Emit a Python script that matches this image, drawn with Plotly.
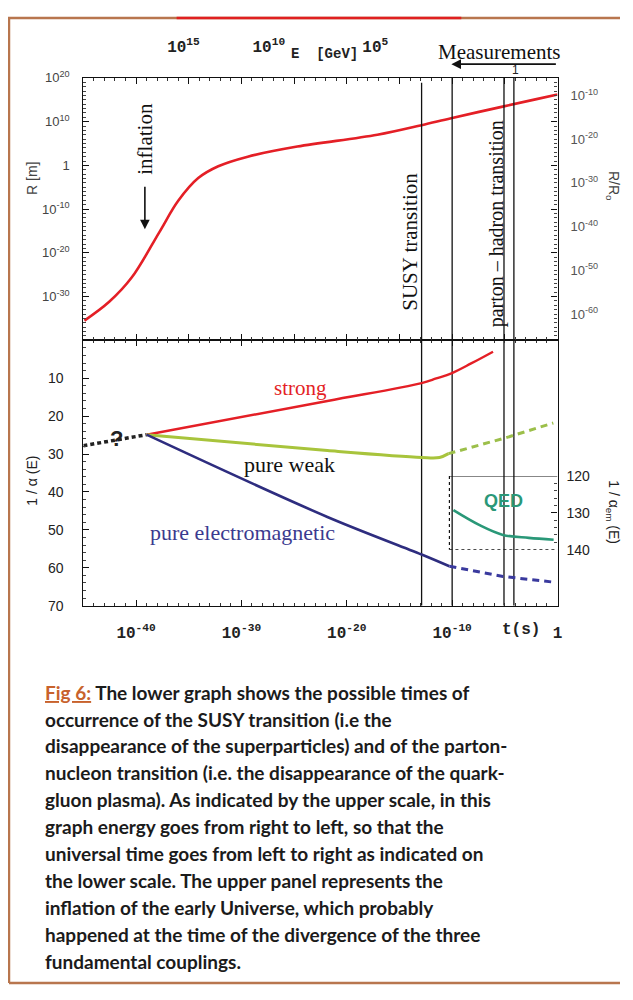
import plotly.graph_objects as go

# screen geometry of the reference and the body margin the page adds
SW, SH, MARGIN = 633, 1000, 8
FW, FH = SW - 2 * MARGIN, SH - 2 * MARGIN

# ---------------- data (exponents of 10 for log quantities) ----------------
# upper panel: scale factor R [m] vs time t [s]
R_logt = [-44.9, -42.55, -40.4, -37.8, -36.0, -34.1, -32.2, -29.4, -24.7, -17.1, -12.9, -10.1, -5.1, -2.1, 0.0]
R_logR = [-35.5, -31.2, -25.6, -15.3, -8.1, -2.9, -0.2, 2.0, 4.3, 7.0, 9.2, 10.8, 13.5, 15.1, 16.2]
R0_exp = 26  # R/R0 right axis offset (decades)

# lower panel: inverse couplings 1/alpha vs time
unknown_logt = [-45.0, -42.0, -39.0]
unknown_a = [27.8, 26.3, 24.9]
strong_logt = [-39.0, -21.84, -12.9, -11.5, -10.07, -8.2, -6.12]
strong_a = [24.9, 16.0, 11.3, 10.05, 8.7, 6.1, 3.0]
weak_logt = [-39.0, -21.84, -12.9, -11.2, -10.35]
weak_a = [24.9, 29.1, 30.9, 30.9, 29.9]
weak_ext_logt = [-10.35, -4.9, -0.4]
weak_ext_a = [29.9, 25.7, 21.8]
em_logt = [-39.0, -21.84, -12.9, -10.26]
em_a = [24.9, 46.6, 56.5, 59.6]
em_ext_logt = [-10.26, -5.18, -0.37]
em_ext_a = [59.6, 62.3, 63.8]
qed_logt = [-9.88, -7.44, -5.18, -2.73, -0.37]
qed_a = [129.3, 133.3, 136.0, 136.8, 137.3]

# transition lines (log t) and top of each line in upper panel (log R)
trans_logt = [-12.9, -10.0, -5.08, -4.14]
trans_top = [18.9, 20, 20, 20]
inset_left_logt = -10.26

# tick labels
t_tickexp = [-40, -30, -20, -10, 0]
t_ticktext = ["10<sup>-40</sup>", "10<sup>-30</sup>", "10<sup>-20</sup>", "10<sup>-10</sup>", "1"]
E_tick_logt = [-35.5, -27.4, -17.3]
E_ticktext = ["10<sup>15</sup>", "10<sup>10</sup>", "10<sup>5</sup>"]
R_tickexp = [20, 10, 0, -10, -20, -30]
R_ticktext = ["10<sup>20</sup>", "10<sup>10</sup>", "1", "10<sup>-10</sup>", "10<sup>-20</sup>", "10<sup>-30</sup>"]
RR0_tickexp = [-10, -20, -30, -40, -50, -60]
RR0_ticktext = ["10<sup>-10</sup>", "10<sup>-20</sup>", "10<sup>-30</sup>", "10<sup>-40</sup>", "10<sup>-50</sup>", "10<sup>-60</sup>"]
a_ticks = [10, 20, 30, 40, 50, 60, 70]
aem_ticks = [120, 130, 140]

caption = [
    "<span style='color:#c8622c'><u>Fig 6:</u></span> The lower graph shows the possible times of",
    "occurrence of the SUSY transition (i.e the",
    "disappearance of the superparticles) and of the parton-",
    "nucleon transition (i.e. the disappearance of the quark-",
    "gluon plasma). As indicated by the upper scale, in this",
    "graph energy goes from right to left, so that the",
    "universal time goes from left to right as indicated on",
    "the lower scale. The upper panel represents the",
    "inflation of the early Universe, which probably",
    "happened at the time of the divergence of the three",
    "fundamental couplings.",
]

# ---------------- helpers ----------------
def p(v):
    return [10.0 ** float(x) for x in v]

def px(x):
    return (x - MARGIN) / FW

def py(y):
    return 1 - (y - MARGIN) / FH

XD = [px(84), px(562)]
UP = [py(337), py(70)]
LO = [py(607), py(337)]
INS = [py(550), py(475)]

RED = "#e41f26"
WEAK = "#a8c43c"
EM = "#2e2d7f"
QED = "#2a9878"
SERIF = "Liberation Serif, Times New Roman, serif"
SANS = "Liberation Sans, Arial, sans-serif"
MONO = "Liberation Mono, Courier New, monospace"

fig = go.Figure()

# upper panel curve
fig.add_trace(go.Scatter(x=p(R_logt), y=p(R_logR), xaxis="x2", yaxis="y", mode="lines",
                         line=dict(color=RED, width=2.6, shape="spline"), hoverinfo="skip"))
# invisible traces to activate the overlay axes
fig.add_trace(go.Scatter(x=p(R_logt), y=p([r - R0_exp for r in R_logR]), xaxis="x2", yaxis="y3",
                         mode="lines", line=dict(width=0), opacity=0, hoverinfo="skip"))
fig.add_trace(go.Scatter(x=p(R_logt), y=p(R_logR), xaxis="x3", yaxis="y",
                         mode="lines", line=dict(width=0), opacity=0, hoverinfo="skip"))

# transition lines
for lt, top in zip(trans_logt, trans_top):
    fig.add_trace(go.Scatter(x=p([lt, lt]), y=p([top, -40]), xaxis="x2", yaxis="y",
                             mode="lines", line=dict(color="#111", width=1.3), hoverinfo="skip"))
    fig.add_trace(go.Scatter(x=p([lt, lt]), y=[0, 70], xaxis="x", yaxis="y2",
                             mode="lines", line=dict(color="#111", width=1.3), hoverinfo="skip"))

# lower panel couplings
fig.add_trace(go.Scatter(x=p(unknown_logt), y=unknown_a, xaxis="x", yaxis="y2", mode="lines",
                         line=dict(color="#222", width=3.5, dash="4px,3px"), hoverinfo="skip"))
fig.add_trace(go.Scatter(x=p(strong_logt), y=strong_a, xaxis="x", yaxis="y2", mode="lines",
                         line=dict(color=RED, width=2.4, shape="spline"), hoverinfo="skip"))
fig.add_trace(go.Scatter(x=p(weak_logt), y=weak_a, xaxis="x", yaxis="y2", mode="lines",
                         line=dict(color=WEAK, width=3, shape="spline"), hoverinfo="skip"))
fig.add_trace(go.Scatter(x=p(weak_ext_logt), y=weak_ext_a, xaxis="x", yaxis="y2", mode="lines",
                         line=dict(color="#9cbf4a", width=3, dash="7px,5px"), hoverinfo="skip"))
fig.add_trace(go.Scatter(x=p(em_logt), y=em_a, xaxis="x", yaxis="y2", mode="lines",
                         line=dict(color=EM, width=2.6, shape="spline"), hoverinfo="skip"))
fig.add_trace(go.Scatter(x=p(em_ext_logt), y=em_ext_a, xaxis="x", yaxis="y2", mode="lines",
                         line=dict(color="#3a3a9e", width=3, dash="7px,5px"), hoverinfo="skip"))

# QED inset
fig.add_trace(go.Scatter(x=p(qed_logt), y=qed_a, xaxis="x", yaxis="y4", mode="lines",
                         line=dict(color=QED, width=2.6, shape="spline"), hoverinfo="skip"))
fig.add_trace(go.Scatter(x=p([inset_left_logt, 0]), y=[120, 120], xaxis="x", yaxis="y4", mode="lines",
                         line=dict(color="#111", width=1.2), hoverinfo="skip"))
fig.add_trace(go.Scatter(x=p([inset_left_logt, inset_left_logt]), y=[120, 140], xaxis="x", yaxis="y4",
                         mode="lines", line=dict(color="#111", width=1.2, dash="dot"), hoverinfo="skip"))
fig.add_trace(go.Scatter(x=p([inset_left_logt, 0]), y=[140, 140], xaxis="x", yaxis="y4", mode="lines",
                         line=dict(color="#111", width=1.2, dash="dot"), hoverinfo="skip"))

base = dict(showline=True, linecolor="#111", linewidth=1.2, showgrid=False, zeroline=False)

fig.update_layout(
    width=FW, height=FH, margin=dict(l=0, r=0, t=0, b=0),
    paper_bgcolor="white", plot_bgcolor="rgba(0,0,0,0)", showlegend=False,
    xaxis=dict(domain=XD, anchor="y2", type="log", range=[-45, 0],
               tickmode="array", tickvals=p(t_tickexp), ticktext=t_ticktext,
               ticks="inside", ticklen=6, tickcolor="#111", mirror="ticks",
               minor=dict(ticks="inside", ticklen=3, dtick=1, tickcolor="#333"),
               tickfont=dict(family=MONO, size=16, color="#222", weight="bold"),
               ticklabelstandoff=12, **base),
    xaxis2=dict(domain=XD, anchor="y", type="log", range=[-45, 0], showticklabels=False,
                ticks="inside", ticklen=6, tickcolor="#111", mirror="ticks", dtick=5,
                minor=dict(ticks="inside", ticklen=3, dtick=1, tickcolor="#333"), **base),
    xaxis3=dict(overlaying="x2", anchor="y", side="top", type="log", range=[-45, 0],
                tickmode="array", tickvals=p(E_tick_logt), ticktext=E_ticktext, ticks="",
                tickfont=dict(family=MONO, size=16, color="#222", weight="bold"),
                ticklabelstandoff=22, showline=False, showgrid=False, zeroline=False),
    yaxis=dict(domain=UP, anchor="x2", type="log", range=[-40, 20],
               tickmode="array", tickvals=p(R_tickexp), ticktext=R_ticktext,
               ticks="inside", ticklen=6, tickcolor="#111", mirror="ticks",
               minor=dict(ticks="inside", ticklen=3, dtick=1, tickcolor="#444"),
               tickfont=dict(family=SANS, size=13, color="#444"), ticklabelstandoff=10, **base),
    yaxis3=dict(overlaying="y", anchor="x2", side="right", type="log", range=[-66, -6],
                tickmode="array", tickvals=p(RR0_tickexp), ticktext=RR0_ticktext, ticks="",
                tickfont=dict(family=SANS, size=13, color="#555"), ticklabelstandoff=12,
                showline=False, showgrid=False, zeroline=False),
    yaxis2=dict(domain=LO, anchor="x", range=[70, 0], tickmode="array", tickvals=a_ticks,
                ticks="inside", ticklen=6, tickcolor="#111", mirror=True,
                minor=dict(ticks="inside", ticklen=3, dtick=2, tickcolor="#444"),
                tickfont=dict(family=SANS, size=14, color="#222"), ticklabelstandoff=16, **base),
    yaxis4=dict(domain=INS, anchor="x", side="right", range=[140, 120], tickmode="array",
                tickvals=aem_ticks, ticks="inside", ticklen=6, tickcolor="#111",
                minor=dict(ticks="inside", ticklen=3, dtick=2, tickcolor="#444"),
                tickfont=dict(family=SANS, size=14, color="#222"), ticklabelstandoff=5, **base),
)

ann = []
def A(x, y, text, size, family=SERIF, color="#111", angle=0, xanchor="center", yanchor="middle"):
    ann.append(dict(x=px(x), y=py(y), xref="paper", yref="paper", text=text, showarrow=False,
                    font=dict(family=family, size=size, color=color), textangle=angle,
                    xanchor=xanchor, yanchor=yanchor))

# upper panel texts
A(146, 132, "inflation", 21, angle=-90)
A(413, 237, "SUSY transition", 21, angle=-90)
A(500, 219, "parton – hadron transition", 20, angle=-90)
A(503, 44, "Measurements", 21)
A(291, 46, "<b>E  [GeV]</b>", 14, family=MONO, color="#222", xanchor="left")
A(520, 62, "1", 12, family=SANS, color="#222")
# lower panel texts
A(303, 386, "strong", 21, color=RED)
A(292, 463, "pure weak", 22, color="#111")
A(244, 533, "pure electromagnetic", 22, color="#3b3a8f")
A(508, 500, "<b>QED</b>", 18, family=SANS, color=QED)
A(117, 437, "<b>?</b>", 22, family=SANS, color="#222")
A(525, 632, "<b>t(s)</b>", 16, family=MONO, color="#222")
# axis titles
A(32, 172, "R [m]", 14, family=SANS, color="#444", angle=-90)
A(618, 180, "R/R<sub>o</sub>", 14, family=SANS, color="#444", angle=90)
A(32, 480, "1 / α (E)", 14, family=SANS, color="#222", angle=-90)
A(618, 512, "1 / α<sub>em</sub> (E)", 14, family=SANS, color="#222", angle=90)

# arrows
ann.append(dict(x=px(146), y=py(224), xref="paper", yref="paper", ax=0, ay=-44, axref="pixel", ayref="pixel",
                text="", showarrow=True, arrowhead=2, arrowsize=1.2, arrowwidth=1.6, arrowcolor="#111"))
ann.append(dict(x=px(455), y=py(56), xref="paper", yref="paper", ax=106, ay=0, axref="pixel", ayref="pixel",
                text="", showarrow=True, arrowhead=2, arrowsize=1.2, arrowwidth=1.6, arrowcolor="#111"))

# caption
for i, line in enumerate(caption):
    ann.append(dict(x=px(43), y=py(695 + 27.4 * i), xref="paper", yref="paper", text="<b>" + line + "</b>",
                    showarrow=False, xanchor="left", yanchor="middle",
                    font=dict(family="Liberation Sans Narrow, Lato, sans-serif", size=19, color="#1b1b1b")))

fig.update_layout(annotations=ann)

# page frame
BROWN = "#b8764e"
fig.update_layout(shapes=[
    dict(type="line", xref="paper", yref="paper", x0=px(5), x1=1, y0=py(9), y1=py(9), line=dict(color=BROWN, width=2.5)),
    dict(type="line", xref="paper", yref="paper", x0=px(178), x1=px(465), y0=py(9), y1=py(9), line=dict(color="#e02020", width=2.5)),
    dict(type="line", xref="paper", yref="paper", x0=px(9), x1=px(9), y0=py(9), y1=py(991), line=dict(color=BROWN, width=2.5)),
    dict(type="line", xref="paper", yref="paper", x0=px(9), x1=1, y0=py(991), y1=py(991), line=dict(color=BROWN, width=2.5)),
])

fig.write_html("out.html")
